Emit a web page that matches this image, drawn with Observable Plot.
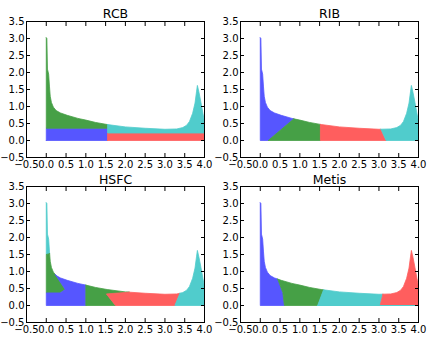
<!DOCTYPE html>
<html>
<head>
<meta charset="utf-8">
<script src="https://cdn.jsdelivr.net/npm/d3@7"></script>
<script src="https://cdn.jsdelivr.net/npm/@observablehq/plot@0.6"></script>
<style>
  html, body { margin: 0; padding: 0; background: #fff; }
  #grid { position: relative; width: 428px; height: 342px; background: #fff; overflow: hidden; }
  .panel { position: absolute; }
</style>
</head>
<body>
<div id="grid"></div>
<script>
// Upper edge of the mesh (sampled), shared by every partitioning
const curveX = [0, 0.015, 0.03, 0.06, 0.08, 0.1, 0.13, 0.18, 0.25, 0.36, 0.53, 0.8, 1.0, 1.25, 1.54, 2.0, 2.5, 3.0, 3.3, 3.45, 3.55, 3.62, 3.7, 3.76, 3.8, 3.82, 3.86, 3.91, 3.96, 4.0];
const curveY = [3.02, 3.0, 2.1, 1.95, 1.6, 1.3, 1.12, 0.98, 0.88, 0.81, 0.74, 0.65, 0.6, 0.53, 0.47, 0.4, 0.36, 0.33, 0.34, 0.38, 0.45, 0.56, 0.8, 1.1, 1.45, 1.62, 1.42, 1.12, 0.8, 0.55];

// Axis ticks
const xTicks = [-0.5, 0.0, 0.5, 1.0, 1.5, 2.0, 2.5, 3.0, 3.5, 4.0];
const yTicks = [-0.5, 0.0, 0.5, 1.0, 1.5, 2.0, 2.5, 3.0, 3.5];

// Panel titles
const titles = ["RCB", "RIB", "HSFC", "Metis"];

// Partition colours (b, g, r, c)
const partColors = {b: "#5656ff", g: "#46a046", r: "#ff5e5e", c: "#50cccc"};

// Partitions: `top` follows the upper edge between two x values,
// `chain` continues the outline back to the start.
const rcbParts = [
  {part: "b", top: null, chain: [[0, 0], [1.55, 0], [1.55, 0.36], [0, 0.36]]},
  {part: "g", top: [0, 1.55], chain: [[1.55, 0.36], [0, 0.36]]},
  {part: "r", top: null, chain: [[1.55, 0], [4.0, 0], [4.0, 0.22], [1.55, 0.22]]},
  {part: "c", top: [1.55, 4.0], chain: [[4.0, 0.22], [1.55, 0.22]]}
];
const ribParts = [
  {part: "b", top: [0, 0.85], chain: [[0.2, 0], [0, 0]]},
  {part: "g", top: [0.85, 1.52], chain: [[1.52, 0], [0.2, 0]]},
  {part: "r", top: [1.52, 3.05], chain: [[3.18, 0], [1.52, 0]]},
  {part: "c", top: [3.05, 4.0], chain: [[4.0, 0], [3.18, 0]]}
];
const hsfcParts = [
  {part: "c", top: [0, 0.085], chain: [[0, 1.5]]},
  {part: "g", top: [0.085, 0.23], chain: [[0.48, 0.47], [0.35, 0.37], [0, 0.37], [0, 1.5]]},
  {part: "b", top: [0.23, 1.0], chain: [[1.0, 0], [0, 0], [0, 0.37], [0.35, 0.37], [0.48, 0.47]]},
  {part: "g", top: [1.0, 2.1], chain: [[1.52, 0.34], [1.75, 0], [1.0, 0]]},
  {part: "r", top: [2.1, 3.38], chain: [[3.25, 0], [1.75, 0], [1.52, 0.34]]},
  {part: "c", top: [3.38, 4.0], chain: [[4.0, 0], [3.25, 0]]}
];
const metisParts = [
  {part: "b", top: [0, 0.44], chain: [[0.57, 0.38], [0.61, 0], [0, 0]]},
  {part: "g", top: [0.44, 1.6], chain: [[1.45, 0], [0.61, 0], [0.57, 0.38]]},
  {part: "c", top: [1.6, 3.1], chain: [[3.03, 0], [1.45, 0]]},
  {part: "r", top: [3.1, 4.0], chain: [[4.0, 0], [3.03, 0]]}
];

// Bottom-row edges that run under a neighbouring partition
const rcbBase = [];
const ribBase = [];
const hsfcBase = [];
const metisBase = [{part: "c", x1: 1.45, x2: 4.0}];

const panels = [
  {title: titles[0], parts: rcbParts, base: rcbBase, left: 0, top: 0, titleDy: -4},
  {title: titles[1], parts: ribParts, base: ribBase, left: 214, top: 0, titleDy: -4},
  {title: titles[2], parts: hsfcParts, base: hsfcBase, left: 0, top: 165, titleDy: -3},
  {title: titles[3], parts: metisParts, base: metisBase, left: 214, top: 165, titleDy: -3}
];

function edgeAt(x) {
  for (let i = 1; i < curveX.length; i++) {
    if (x <= curveX[i]) {
      const t = (x - curveX[i - 1]) / (curveX[i] - curveX[i - 1]);
      return curveY[i - 1] + t * (curveY[i] - curveY[i - 1]);
    }
  }
  return curveY[curveY.length - 1];
}

function outline(p) {
  const pts = [];
  if (p.top) {
    const [a, b] = p.top;
    pts.push([a, edgeAt(a)]);
    curveX.forEach((x, i) => { if (x > a && x < b) pts.push([x, curveY[i]]); });
    pts.push([b, edgeAt(b)]);
  }
  const all = pts.concat(p.chain);
  all.push(all[0]);
  return all.map(([x, y]) => ({x, y}));
}

const fmt = v => (v < 0 ? "\u2212" : "") + Math.abs(v).toFixed(1);

const grid = document.getElementById("grid");
for (const panel of panels) {
  const partMarks = panel.parts.map(p =>
    Plot.line(outline(p), {
      x: "x", y: "y", curve: "linear",
      fill: partColors[p.part], stroke: partColors[p.part], strokeWidth: 0.8
    })
  );
  const baseMarks = panel.base.map(b =>
    Plot.ruleY([0], {x1: b.x1, x2: b.x2, stroke: partColors[b.part], strokeWidth: 1})
  );
  const chart = Plot.plot({
    width: 214, height: 171,
    marginTop: 21, marginBottom: 14, marginLeft: 26, marginRight: 10,
    x: {domain: [-0.5, 4.0], label: null},
    y: {domain: [-0.5, 3.5], label: null},
    style: {fontFamily: "'DejaVu Sans', sans-serif", fontSize: "10px", background: "transparent", color: "#000", overflow: "visible"},
    marks: [
      ...partMarks,
      ...baseMarks,
      Plot.frame({stroke: "#000", strokeWidth: 1}),
      Plot.axisX(xTicks, {anchor: "bottom", tickSize: -4, tickFormat: () => ""}),
      Plot.axisX(xTicks, {anchor: "top", tickSize: -4, tickFormat: () => ""}),
      Plot.axisY(yTicks, {anchor: "left", tickSize: -4, tickFormat: () => ""}),
      Plot.axisY(yTicks, {anchor: "right", tickSize: -4, tickFormat: () => ""}),
      Plot.axisX(xTicks, {anchor: "bottom", tickSize: 0, tickPadding: 3, tickFormat: fmt}),
      Plot.axisY(yTicks, {anchor: "left", tickSize: 0, tickPadding: 2, tickFormat: fmt}),
      Plot.text([panel.title], {frameAnchor: "top", lineAnchor: "bottom", dy: panel.titleDy, fontSize: 12.5, fill: "#000"})
    ]
  });
  chart.classList.add("panel");
  chart.style.left = panel.left + "px";
  chart.style.top = panel.top + "px";
  grid.appendChild(chart);
}
</script>
</body>
</html>
